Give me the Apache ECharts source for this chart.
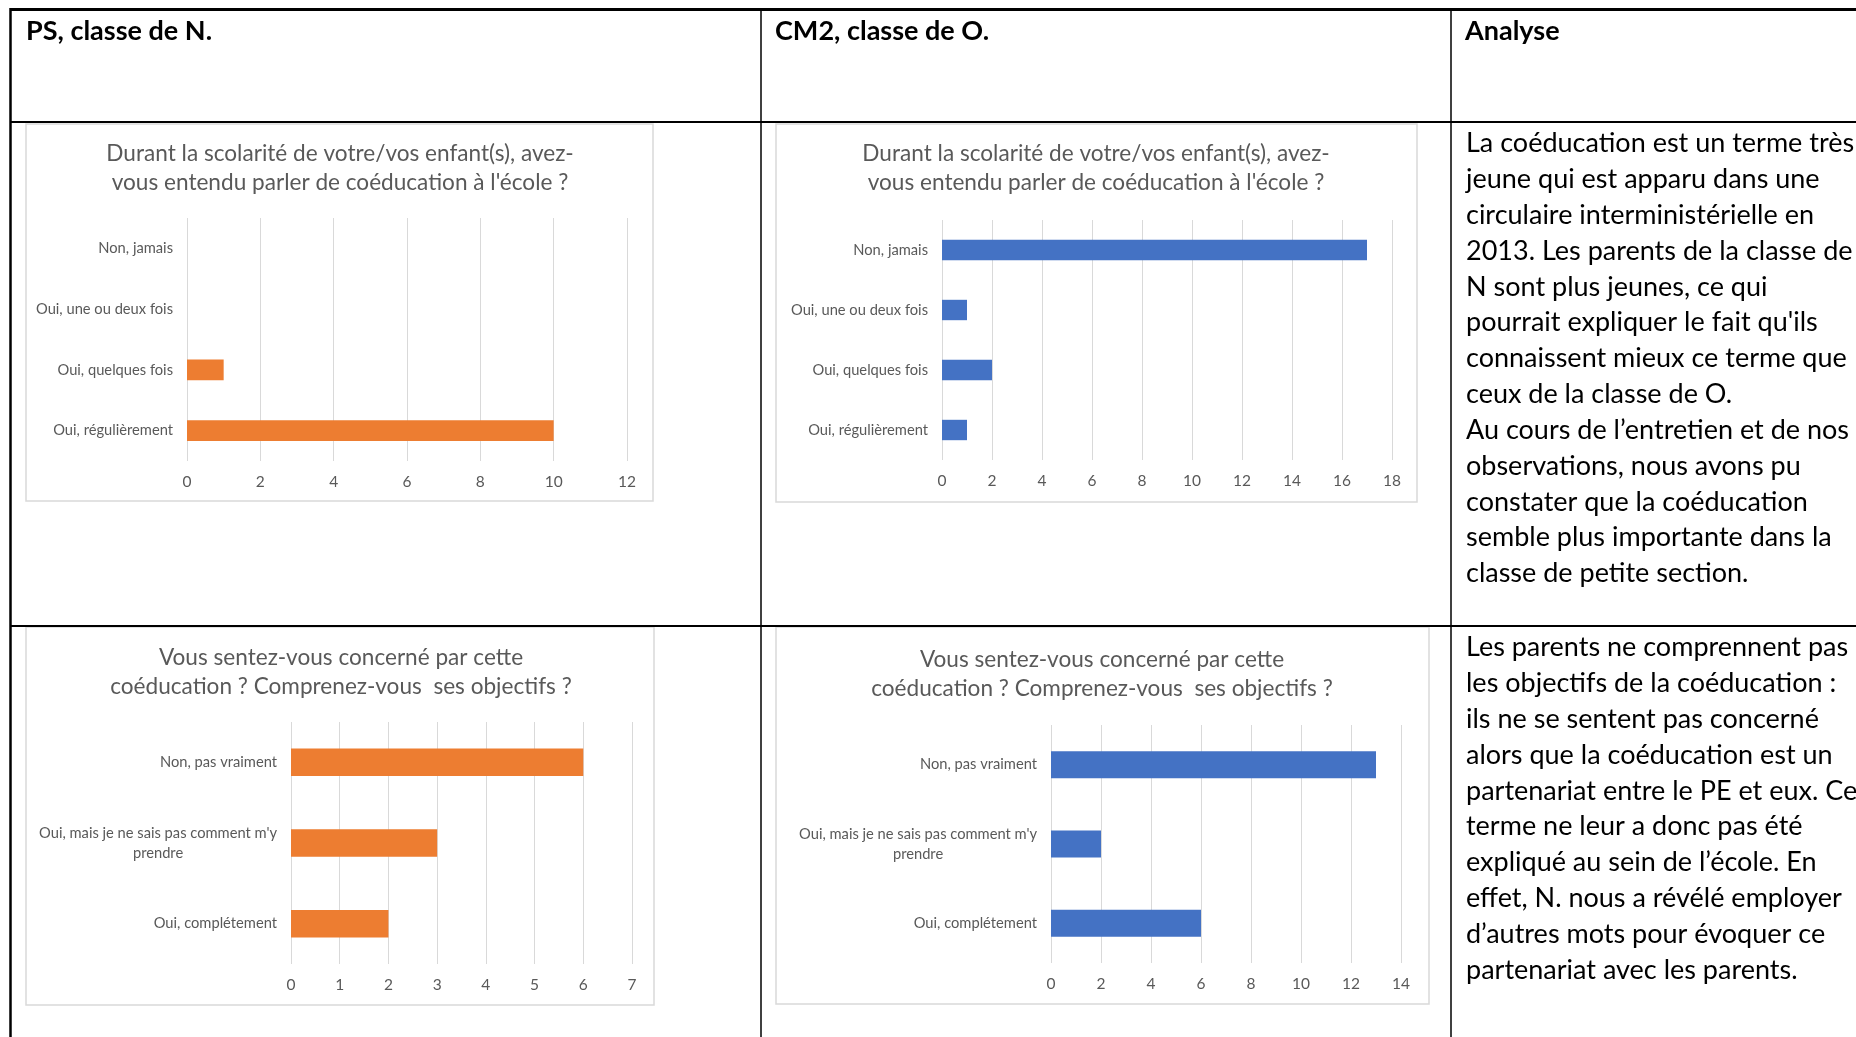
<!DOCTYPE html>
<html><head><meta charset="utf-8">
<script src="https://cdn.jsdelivr.net/npm/echarts@6/dist/echarts.min.js"></script>
<style>html,body{margin:0;padding:0;background:#fff}#c{width:1856px;height:1037px}</style>
</head><body><div id="c"></div>
<script>
// ---------- DATA ----------
const headers = ['PS, classe de N.', 'CM2, classe de O.', 'Analyse'];
const title1 = ['Durant la scolarité de votre/vos enfant(s), avez-', "vous entendu parler de coéducation à l'école ?"];
const title2 = ['Vous sentez-vous concerné par cette', 'coéducation ? Comprenez-vous  ses objectifs ?'];
const cats1 = ['Non, jamais', 'Oui, une ou deux fois', 'Oui, quelques fois', 'Oui, régulièrement'];
const cats2 = ['Non, pas vraiment', "Oui, mais je ne sais pas comment m'y prendre", 'Oui, complétement'];
const psQ1 = [0, 0, 1, 10];
const cm2Q1 = [17, 1, 2, 1];
const psQ2 = [6, 3, 2];
const cm2Q2 = [13, 2, 6];
const axisMax = [12, 18, 7, 14];
const axisStep = [2, 2, 1, 2];
const analyse1 = [
  'La coéducation est un terme très',
  'jeune qui est apparu dans une',
  'circulaire interministérielle en',
  '2013. Les parents de la classe de',
  'N sont plus jeunes, ce qui',
  "pourrait expliquer le fait qu'ils",
  'connaissent mieux ce terme que',
  'ceux de la classe de O.',
  'Au cours de l’entretien et de nos',
  'observations, nous avons pu',
  'constater que la coéducation',
  'semble plus importante dans la',
  'classe de petite section.'
];
const analyse2 = [
  'Les parents ne comprennent pas',
  'les objectifs de la coéducation :',
  'ils ne se sentent pas concerné',
  'alors que la coéducation est un',
  'partenariat entre le PE et eux. Ce',
  'terme ne leur a donc pas été',
  'expliqué au sein de l’école. En',
  'effet, N. nous a révélé employer',
  'd’autres mots pour évoquer ce',
  'partenariat avec les parents.'
];

// ---------- STYLE / LAYOUT ----------
const ORANGE = '#ED7D31', BLUE = '#4472C4', GREY = '#595959', GRID = '#d9d9d9';
const FONT = 'Lato, "Noto Sans", sans-serif';
const grids = [
  {left: 187, top: 218, width: 440, height: 243},
  {left: 942, top: 220, width: 450, height: 240},
  {left: 291, top: 722, width: 341, height: 242},
  {left: 1051, top: 725, width: 350, height: 238}
];
const boxes = [
  {x: 26, y: 124, w: 627, h: 377, cx: 340, ty: 168},
  {x: 776, y: 124, w: 641, h: 378, cx: 1096, ty: 168},
  {x: 26, y: 627, w: 628, h: 378, cx: 341, ty: 672},
  {x: 776, y: 627, w: 653, h: 377, cx: 1102, ty: 674}
];

const chart = echarts.init(document.getElementById('c'), null, {renderer: 'canvas'});

const graphic = [];
// chart boxes + titles
boxes.forEach((b, i) => {
  graphic.push({type: 'rect', z: -1, shape: {x: b.x, y: b.y, width: b.w, height: b.h},
    style: {fill: '#fff', stroke: GRID, lineWidth: 1.5}});
  const t = i < 2 ? title1 : title2;
  graphic.push({type: 'text', style: {text: t.join('\n'), x: b.cx, y: b.ty, align: 'center', verticalAlign: 'middle',
    fontFamily: FONT, fontSize: 22.6, lineHeight: 29.5, fill: GREY}});
});
// table lines
const L = (x1, y1, x2, y2, w) => graphic.push({type: 'line', z: 10, shape: {x1, y1, x2, y2}, style: {stroke: '#000', lineWidth: w}});
L(10, 9.5, 1856, 9.5, 3);
L(10.5, 8, 10.5, 1037, 2.5);
L(761, 9, 761, 1037, 1.5);
L(1451, 9, 1451, 1037, 1.5);
L(10, 122, 1856, 122, 2);
L(10, 626, 1856, 626, 2);
// headers
[26, 775, 1465].forEach((x, i) => graphic.push({type: 'text', style: {text: headers[i], x, y: 31, verticalAlign: 'middle',
  fontFamily: FONT, fontWeight: 'bold', fontSize: 27, fill: '#000'}}));
// analysis text
graphic.push({type: 'text', style: {text: analyse1.join('\n'), x: 1466, y: 125.5, fontFamily: FONT, fontSize: 27, lineHeight: 35.85, fill: '#000'}});
graphic.push({type: 'text', style: {text: analyse2.join('\n'), x: 1466, y: 629.5, fontFamily: FONT, fontSize: 27, lineHeight: 35.85, fill: '#000'}});

const wrap = v => {
  if (v.length > 30) { const i = v.lastIndexOf(' ', 36); return '{c|' + v.slice(0, i) + '}\n{c|' + v.slice(i + 1) + '}'; }
  return v;
};

const xAxes = grids.map((g, i) => ({
  type: 'value', gridIndex: i, min: 0, max: axisMax[i], interval: axisStep[i],
  axisLine: {show: false}, axisTick: {show: false},
  axisLabel: {color: GREY, fontFamily: FONT, fontSize: 15.5, margin: 13},
  splitLine: {show: true, lineStyle: {color: GRID, width: 1}}
}));
const yAxes = grids.map((g, i) => ({
  type: 'category', gridIndex: i, inverse: true, data: i < 2 ? cats1 : cats2,
  axisLine: {show: false}, axisTick: {show: false},
  axisLabel: {color: GREY, fontFamily: FONT, fontSize: 14.7, margin: 14, formatter: wrap,
    rich: {c: {align: 'center', color: GREY, fontFamily: FONT, fontSize: 14.7, lineHeight: 20}}}
}));
const datasets = [psQ1, cm2Q1, psQ2, cm2Q2];
const colors = [ORANGE, BLUE, ORANGE, BLUE];
const series = datasets.map((d, i) => ({
  type: 'bar', xAxisIndex: i, yAxisIndex: i, data: d, barWidth: '34%',
  itemStyle: {color: colors[i]}, silent: true
}));

chart.setOption({
  animation: false,
  grid: grids.map(g => Object.assign({containLabel: false}, g)),
  xAxis: xAxes, yAxis: yAxes, series, graphic
});
</script></body></html>
